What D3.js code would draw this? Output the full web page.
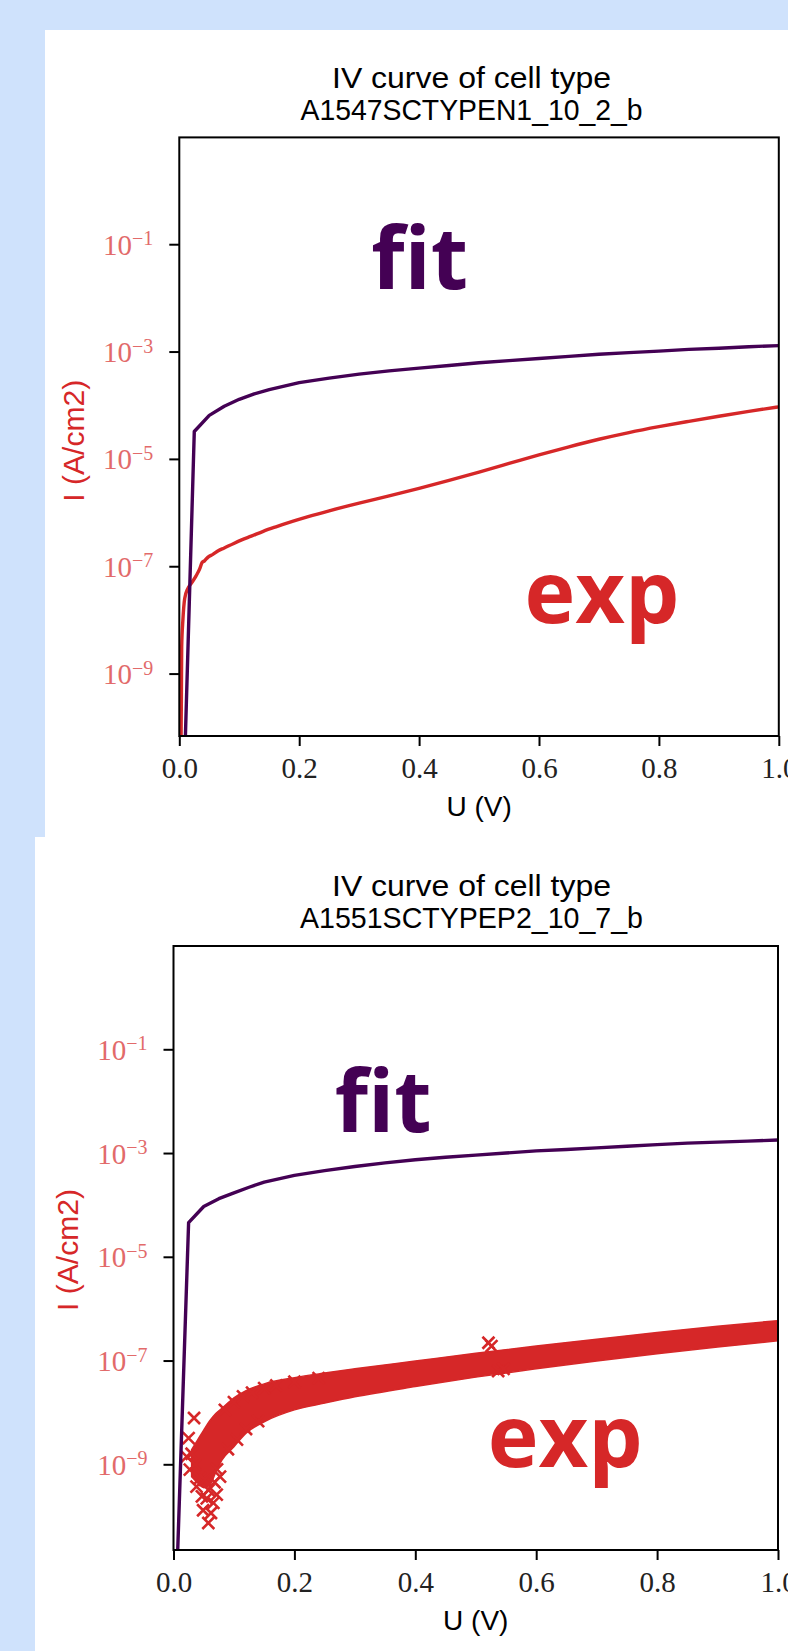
<!DOCTYPE html>
<html><head><meta charset="utf-8">
<script src="https://cdn.jsdelivr.net/npm/d3@7"></script>
<style>
html,body{margin:0;padding:0;background:#cfe2fc;overflow:hidden}
svg{display:block}
</style></head><body>
<svg id="c" width="788" height="1651"></svg>
<script>
// ---------------- DATA ----------------
const xTickValues = [0, 0.2, 0.4, 0.6, 0.8, 1.0];
const xTickLabels = ["0.0", "0.2", "0.4", "0.6", "0.8", "1.0"];
const yTickExponents = [-1, -3, -5, -7, -9];

const titleA = ["IV curve of cell type", "A1547SCTYPEN1_10_2_b"];
const titleB = ["IV curve of cell type", "A1551SCTYPEP2_10_7_b"];
const xLabel = "U (V)";
const yLabel = "I (A/cm2)";
const fitLabel = "fit";
const expLabel = "exp";

// fit curves (both cells), voltage samples
const fitU = [0, 0.025, 0.05, 0.075, 0.1, 0.125, 0.15, 0.2, 0.25, 0.3, 0.35, 0.4, 0.45, 0.5, 0.55, 0.6, 0.65, 0.7, 0.75, 0.8, 0.85, 0.9, 0.95, 1.0];
const fitI_A1547 = [8.5e-15, 3.24e-5, 6.46e-5, 9.55e-5, 1.29e-4, 1.62e-4, 1.95e-4, 2.63e-4, 3.20e-4, 3.80e-4, 4.37e-4, 4.90e-4, 5.50e-4, 6.17e-4, 6.76e-4, 7.41e-4, 8.13e-4, 8.91e-4, 9.55e-4, 1.02e-3, 1.10e-3, 1.15e-3, 1.23e-3, 1.29e-3];
const fitI_A1551 = [7.9e-14, 4.57e-5, 9.33e-5, 1.32e-4, 1.70e-4, 2.19e-4, 2.75e-4, 3.72e-4, 4.57e-4, 5.50e-4, 6.46e-4, 7.41e-4, 8.32e-4, 9.12e-4, 1.00e-3, 1.10e-3, 1.17e-3, 1.26e-3, 1.35e-3, 1.45e-3, 1.55e-3, 1.62e-3, 1.70e-3, 1.78e-3];

// experimental curve, cell A1547 (drawn as a line)
const expU_A1547 = [0.002, 0.0035, 0.004, 0.006, 0.009, 0.014, 0.02, 0.028, 0.034, 0.038, 0.042, 0.048, 0.056, 0.065, 0.075, 0.09, 0.104, 0.12, 0.14, 0.16, 0.19, 0.215, 0.25, 0.3, 0.35, 0.4, 0.45, 0.5, 0.55, 0.6, 0.65, 0.7, 0.75, 0.8, 0.85, 0.9, 0.95, 1.0];
const expI_A1547 = [3.2e-12, 3.98e-10, 3.16e-9, 1.0e-8, 2.51e-8, 3.80e-8, 4.79e-8, 6.61e-8, 8.91e-8, 1.17e-7, 1.26e-7, 1.48e-7, 1.66e-7, 1.95e-7, 2.19e-7, 2.63e-7, 3.09e-7, 3.63e-7, 4.47e-7, 5.37e-7, 6.92e-7, 8.41e-7, 1.08e-6, 1.50e-6, 2.04e-6, 2.82e-6, 3.98e-6, 5.69e-6, 8.22e-6, 1.19e-5, 1.68e-5, 2.32e-5, 3.09e-5, 3.98e-5, 5.01e-5, 6.24e-5, 7.67e-5, 9.33e-5];

// experimental scatter cloud, cell A1551: envelope of the dense band
const bandU_A1551 = [0.03, 0.04, 0.05, 0.06, 0.07, 0.08, 0.10, 0.12, 0.15, 0.20, 0.25, 0.30, 0.40, 0.50, 0.60, 0.70, 0.80, 0.90, 1.00];
const bandHigh_A1551 = [1.91e-9, 2.95e-9, 4.57e-9, 6.92e-9, 9.55e-9, 1.20e-8, 1.91e-8, 2.63e-8, 3.55e-8, 4.68e-8, 5.75e-8, 6.92e-8, 9.77e-8, 1.38e-7, 1.91e-7, 2.57e-7, 3.47e-7, 4.57e-7, 5.89e-7];
const bandLow_A1551 = [5.75e-10, 4.37e-10, 3.55e-10, 3.98e-10, 7.08e-10, 1.20e-9, 2.19e-9, 3.98e-9, 6.61e-9, 1.12e-8, 1.51e-8, 2.00e-8, 3.16e-8, 4.79e-8, 6.92e-8, 9.77e-8, 1.35e-7, 1.82e-7, 2.40e-7];
// individual visible 'x' markers of the same cloud
const scatterU_A1551 = [0.0218, 0.025, 0.027, 0.030, 0.034, 0.036, 0.038, 0.044, 0.047, 0.049, 0.052, 0.055, 0.0576, 0.058, 0.062, 0.066, 0.068, 0.0715, 0.072, 0.077,
  0.085, 0.10, 0.115, 0.13, 0.15, 0.17, 0.20, 0.24,
  0.09, 0.105, 0.12, 0.14,
  0.521, 0.526, 0.537, 0.546];
const scatterI_A1551 = [1.41e-9, 3.2e-9, 7.9e-10, 1.6e-9, 7.8e-9, 1.0e-9, 3.7e-10, 5.4e-10, 2.4e-10, 1.3e-10, 5.0e-10, 2.2e-10, 7.4e-11, 3.2e-10, 1.15e-10, 1.8e-10, 4.5e-10, 2.6e-10, 8.0e-10, 5.8e-10,
  1.12e-8, 1.58e-8, 2.04e-8, 2.4e-8, 2.95e-8, 3.3e-8, 3.9e-8, 4.57e-8,
  1.95e-9, 3.0e-9, 4.8e-9, 6.8e-9,
  2.2e-7, 1.9e-7, 6.3e-8, 6.9e-8];

// ---------------- STYLE / LAYOUT ----------------
const RED = "#d62728", PURPLE = "#440154", TICKRED = "#e26a6a";
const SERIF = "'Liberation Serif','DejaVu Serif',serif";
const SANS = "'Liberation Sans','DejaVu Sans',sans-serif";
const BOLD = "'Open Sans','Noto Sans',sans-serif";

const panels = [
  { id: "a", title: titleA, bg: {x: 45, y: 30, w: 743, h: 807},
    left: 179.3, right: 778.8, top: 137.4, bottom: 736, yMinExp: -10.163, yMaxExp: 0.99,
    titleX: 471.5, titleY: [87.5, 119.5], titleLen: [279, 342],
    yLabelX: 84, yLabelShift: 4, fitPos: [0.401, 1.46e-2], expPos: [0.705, 8.8e-9],
    fitU: fitU, fitI: fitI_A1547, kind: "line", expU: expU_A1547, expI: expI_A1547 },
  { id: "b", title: titleB, bg: {x: 35, y: 837, w: 753, h: 814},
    left: 173.5, right: 778, top: 946, bottom: 1550, yMinExp: -10.652, yMaxExp: 0.991,
    titleX: 471.5, titleY: [895.5, 927.5], titleLen: [279, 343],
    yLabelX: 77.5, yLabelShift: 2, fitPos: [0.347, 2.49e-3], expPos: [0.648, 8.87e-10],
    fitU: fitU, fitI: fitI_A1551, kind: "scatter",
    bandU: bandU_A1551, bandHigh: bandHigh_A1551, bandLow: bandLow_A1551,
    expU: scatterU_A1551, expI: scatterI_A1551 }
];

const svg = d3.select("#c");
svg.append("rect").attr("width", 788).attr("height", 1651).attr("fill", "#cfe2fc");
const defs = svg.append("defs");

panels.forEach(p => {
  svg.append("rect").attr("x", p.bg.x).attr("y", p.bg.y).attr("width", p.bg.w).attr("height", p.bg.h).attr("fill", "#ffffff");
});

panels.forEach(p => {
  const x = d3.scaleLinear().domain([0, 1]).range([p.left, p.right]);
  const y = d3.scaleLog().domain([Math.pow(10, p.yMinExp), Math.pow(10, p.yMaxExp)]).range([p.bottom, p.top]);
  const g = svg.append("g");

  defs.append("clipPath").attr("id", "clip-" + p.id)
    .append("rect").attr("x", p.left).attr("y", p.top).attr("width", p.right - p.left).attr("height", p.bottom - p.top);
  const plot = g.append("g").attr("clip-path", "url(#clip-" + p.id + ")");

  // experimental data
  if (p.kind === "line") {
    const pts = p.expU.map((u, i) => [u, p.expI[i]]);
    plot.append("path").datum(pts)
      .attr("d", d3.line().x(d => x(d[0])).y(d => y(d[1])).curve(d3.curveMonotoneX))
      .attr("fill", "none").attr("stroke", RED).attr("stroke-width", 3.4).attr("stroke-linejoin", "round");
  } else {
    const band = p.bandU.map((u, i) => ({u: u, lo: p.bandLow[i], hi: p.bandHigh[i]}));
    plot.append("path").datum(band)
      .attr("d", d3.area().x(d => x(d.u)).y0(d => y(d.lo)).y1(d => y(d.hi)).curve(d3.curveMonotoneX))
      .attr("fill", RED).attr("stroke", RED).attr("stroke-width", 1.5);
    const pts = p.expU.map((u, i) => [u, p.expI[i]]);
    plot.selectAll("path.mk").data(pts).enter().append("path").attr("class", "mk")
      .attr("transform", d => `translate(${x(d[0])},${y(d[1])})`)
      .attr("d", "M-6,-6L6,6M-6,6L6,-6")
      .attr("stroke", RED).attr("stroke-width", 2.6).attr("fill", "none");
  }

  // fit curve
  const fpts = p.fitU.map((u, i) => [u, p.fitI[i]]);
  plot.append("path").datum(fpts)
    .attr("d", d3.line().x(d => x(d[0])).y(d => y(d[1])))
    .attr("fill", "none").attr("stroke", PURPLE).attr("stroke-width", 3.4).attr("stroke-linejoin", "round");

  // annotations
  g.append("text").attr("x", x(p.fitPos[0])).attr("y", y(p.fitPos[1]))
    .attr("text-anchor", "middle").attr("font-family", BOLD).attr("font-weight", 700)
    .attr("font-size", 86).attr("fill", PURPLE).text(fitLabel);
  g.append("text").attr("x", x(p.expPos[0])).attr("y", y(p.expPos[1]))
    .attr("text-anchor", "middle").attr("font-family", BOLD).attr("font-weight", 700)
    .attr("font-size", 86).attr("fill", RED).text(expLabel);

  // x axis
  const gx = g.append("g").attr("transform", `translate(0,${p.bottom})`)
    .call(d3.axisBottom(x).tickValues(xTickValues).tickSize(10).tickFormat((d, i) => xTickLabels[i]));
  gx.select(".domain").remove();
  gx.selectAll(".tick line").attr("stroke", "#000").attr("stroke-width", 2);
  gx.selectAll(".tick text").attr("y", 42).attr("dy", null)
    .attr("fill", "#222").style("font-family", SERIF).style("font-size", "29px");

  // y axis
  const gy = g.append("g").attr("transform", `translate(${p.left},0)`)
    .call(d3.axisLeft(y).tickValues(yTickExponents.map(e => Math.pow(10, e))).tickSize(10).tickFormat(() => ""));
  gy.select(".domain").remove();
  gy.selectAll(".tick line").attr("stroke", "#000").attr("stroke-width", 2);
  gy.selectAll(".tick text").each(function(d) {
    const e = Math.round(Math.log10(d));
    const t = d3.select(this);
    t.text(null).attr("x", -26).attr("y", 10).attr("dy", null)
      .attr("fill", TICKRED).style("font-family", SERIF).style("font-size", "29px");
    t.append("tspan").text("10");
    t.append("tspan").attr("dy", -9.5).style("font-size", "20px").text("\u2212" + Math.abs(e));
  });

  // frame
  g.append("rect").attr("x", p.left).attr("y", p.top).attr("width", p.right - p.left).attr("height", p.bottom - p.top)
    .attr("fill", "none").attr("stroke", "#000").attr("stroke-width", 2);

  // axis labels
  g.append("text").attr("x", (p.left + p.right) / 2).attr("y", p.bottom + 79.5)
    .attr("text-anchor", "middle").attr("font-family", SANS).attr("font-size", 28).attr("fill", "#000").text(xLabel);
  g.append("text").attr("transform", `translate(${p.yLabelX},${(p.top + p.bottom) / 2 + p.yLabelShift}) rotate(-90)`)
    .attr("text-anchor", "middle").attr("font-family", SANS).attr("font-size", 29).attr("fill", RED)
    .attr("textLength", 122).attr("lengthAdjust", "spacingAndGlyphs").text(yLabel);

  // title
  p.title.forEach((line, i) => {
    g.append("text").attr("x", p.titleX).attr("y", p.titleY[i]).attr("text-anchor", "middle")
      .attr("font-family", SANS).attr("font-size", 30).attr("fill", "#000")
      .attr("textLength", p.titleLen[i]).attr("lengthAdjust", "spacingAndGlyphs").text(line);
  });
});
</script>
</body></html>
